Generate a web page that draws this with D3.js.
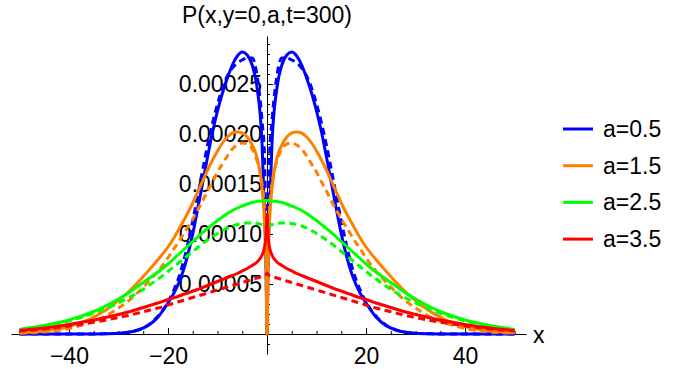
<!doctype html>
<html lang="en">
<head>
<meta charset="utf-8">
<title>P(x,y=0,a,t=300)</title>
<style>
  body { margin: 0; background: #fff; }
  svg { display: block; font-family: "Liberation Sans", Arial, sans-serif; }
  .axis path, .axis line { stroke: #000; stroke-width: 1; }
  .axis text { font-size: 23px; fill: #000; }
</style>
</head>
<body>
<script src="https://d3js.org/d3.v7.min.js"></script>
<script>
// values, y in units of 1e-5
var xs = [-50,-45,-40,-36,-33,-30,-28,-26,-24,-22,-20,-19,-18,-17,-16,-15,-14,-13,-12,-11,-10,-9,-8,-7,-6,-5,-4,-3,-2,-1,-0.5,-0.2,
          0,0.2,0.5,1,2,3,4,5,6,7,8,9,10,11,12,13,14,15,16,17,18,19,20,22,24,26,28,30,33,36,40,45,50];

var blueSolid = [0,0,0,0,0.02,0.07,0.17,0.4,0.85,1.7,3.1,3.9,4.9,6.2,7.9,10.0,12.5,15.1,17.7,20.2,22.3,24.1,25.6,26.9,27.8,28.2,27.9,26.9,24.6,19,12,7,
                 0,7,12,19,24.6,26.9,27.9,28.2,27.8,26.9,25.6,24.1,22.3,20.2,17.7,15.1,12.5,10.0,7.9,6.2,4.9,3.9,3.1,1.7,0.85,0.4,0.17,0.07,0.02,0,0,0,0];
var blueDashed = [0,0,0,0,0.02,0.07,0.18,0.42,0.9,1.8,3.2,4.2,5.4,7.0,9.0,11.3,13.8,16.4,18.9,21.1,23.0,24.6,25.8,26.6,27.1,27.4,27.6,27.6,25.8,21.3,17.8,9,
                  0,9,17.8,21.3,25.8,27.6,27.6,27.4,27.1,26.6,25.8,24.6,23.0,21.1,18.9,16.4,13.8,11.3,9.0,7.0,5.4,4.2,3.2,1.8,0.9,0.42,0.18,0.07,0.02,0,0,0,0];
var orangeSolid = [0.12,0.3,0.75,1.45,2.25,3.35,4.2,5.2,6.3,7.45,8.7,9.45,10.3,11.2,12.1,13.1,14.2,15.3,16.4,17.4,18.3,19.1,19.7,20.1,20.2,20.1,19.7,18.9,17.6,14.5,11.2,7,
                   0,7,11.2,14.5,17.6,18.9,19.7,20.1,20.2,20.1,19.7,19.1,18.3,17.4,16.4,15.3,14.2,13.1,12.1,11.2,10.3,9.45,8.7,7.45,6.3,5.2,4.2,3.35,2.25,1.45,0.75,0.3,0.12];
var orangeDashed = [0.08,0.2,0.55,1.1,1.7,2.6,3.3,4.2,5.2,6.3,7.6,8.4,9.1,9.9,10.7,11.5,12.4,13.3,14.3,15.2,16.2,17.0,17.8,18.5,18.9,19.1,19.0,18.5,17.3,15,12.5,8,
                    0,8,12.5,15,17.3,18.5,19.0,19.1,18.9,18.5,17.8,17.0,16.2,15.2,14.3,13.3,12.4,11.5,10.7,9.9,9.1,8.4,7.6,6.3,5.2,4.2,3.3,2.6,1.7,1.1,0.55,0.2,0.08];
var greenSolid = [0.45,0.85,1.4,2.05,2.7,3.5,4.1,4.8,5.5,6.2,7.0,7.45,7.9,8.35,8.8,9.25,9.7,10.15,10.55,10.95,11.35,11.7,12.05,12.35,12.6,12.8,13.0,13.15,13.25,13.3,13.35,13.35,
                  13.35,13.35,13.35,13.3,13.25,13.15,13.0,12.8,12.6,12.35,12.05,11.7,11.35,10.95,10.55,10.15,9.7,9.25,8.8,8.35,7.9,7.45,7.0,6.2,5.5,4.8,4.1,3.5,2.7,2.05,1.4,0.85,0.45];
var greenDashed = [0.42,0.8,1.3,1.9,2.45,3.1,3.6,4.15,4.8,5.5,6.25,6.65,7.05,7.45,7.85,8.25,8.65,9.05,9.4,9.75,10.05,10.35,10.6,10.8,10.95,11.05,11.1,11.1,11.05,10.95,10.9,10.85,
                   10.85,10.85,10.9,10.95,11.05,11.1,11.1,11.05,10.95,10.8,10.6,10.35,10.05,9.75,9.4,9.05,8.65,8.25,7.85,7.45,7.05,6.65,6.25,5.5,4.8,4.15,3.6,3.1,2.45,1.9,1.3,0.8,0.42];
var redSolid = [0.35,0.6,0.95,1.3,1.6,1.95,2.2,2.5,2.8,3.1,3.45,3.6,3.75,3.95,4.1,4.3,4.45,4.65,4.85,5.05,5.25,5.45,5.65,5.85,6.05,6.3,6.55,6.85,7.2,7.9,8.7,10.0,
                12.0,10.0,8.7,7.9,7.2,6.85,6.55,6.3,6.05,5.85,5.65,5.45,5.25,5.05,4.85,4.65,4.45,4.3,4.1,3.95,3.75,3.6,3.45,3.1,2.8,2.5,2.2,1.95,1.6,1.3,0.95,0.6,0.35];
var redDashed = [0.3,0.5,0.8,1.1,1.35,1.65,1.85,2.1,2.35,2.6,2.9,3.05,3.2,3.35,3.5,3.65,3.8,3.95,4.1,4.25,4.4,4.55,4.7,4.85,5.0,5.15,5.3,5.45,5.6,5.75,5.85,5.95,
                 6.1,5.95,5.85,5.75,5.6,5.45,5.3,5.15,5.0,4.85,4.7,4.55,4.4,4.25,4.1,3.95,3.8,3.65,3.5,3.35,3.2,3.05,2.9,2.6,2.35,2.1,1.85,1.65,1.35,1.1,0.8,0.5,0.3];

var legendLabels = ["a=0.5", "a=1.5", "a=2.5", "a=3.5"];
var colors = ["#0000ff", "#ff8000", "#00ff00", "#ff0000"];
var xTicks = [-40, -20, 20, 40];
var xTickLabels = ["\u221240", "\u221220", "20", "40"];
var yTicks = [5, 10, 15, 20, 25];
var yTickLabels = ["0.00005", "0.00010", "0.00015", "0.00020", "0.00025"];

var width = 682, height = 369;

var x = d3.scaleLinear().domain([-51.7, 52.3]).range([11, 526]);
var y = d3.scaleLinear().domain([-2, 29.8]).range([354, 36]);

var svg = d3.select("body").append("svg")
    .attr("width", width)
    .attr("height", height);

// x axis: minor ticks every 5, major at +-20, +-40
svg.append("g")
    .attr("class", "axis")
    .attr("transform", "translate(0," + y(0) + ")")
    .call(d3.axisBottom(x)
        .tickValues(d3.range(-50, 51, 5).filter(function(d) { return d !== 0 && xTicks.indexOf(d) < 0; }))
        .tickSizeInner(-3).tickSizeOuter(0).tickFormat(""));

svg.append("g")
    .attr("class", "axis")
    .attr("transform", "translate(0," + y(0) + ")")
    .call(d3.axisBottom(x)
        .tickValues(xTicks)
        .tickSizeInner(-6).tickSizeOuter(0).tickPadding(13.5)
        .tickFormat(function(d, i) { return xTickLabels[i]; }))
    .call(function(g) { g.select(".domain").remove(); });

// y axis sitting on x = 0
svg.append("g")
    .attr("class", "axis")
    .attr("transform", "translate(" + x(0) + ",0)")
    .call(d3.axisLeft(y)
        .tickValues(d3.range(-1, 30).filter(function(d) { return d !== 0 && yTicks.indexOf(d) < 0; }))
        .tickSizeInner(-3).tickSizeOuter(0).tickFormat(""));

svg.append("g")
    .attr("class", "axis")
    .attr("transform", "translate(" + x(0) + ",0)")
    .call(d3.axisLeft(y)
        .tickValues(yTicks)
        .tickSizeInner(-6).tickSizeOuter(0).tickPadding(5)
        .tickFormat(function(d, i) { return yTickLabels[i]; }))
    .call(function(g) { g.select(".domain").remove(); });

svg.append("text")
    .attr("x", 533).attr("y", 343)
    .style("font-size", "23px")
    .text("x");

svg.append("text")
    .attr("x", x(0)).attr("y", 23)
    .attr("text-anchor", "middle")
    .style("font-size", "23px")
    .text("P(x,y=0,a,t=300)");

// curves
var series = [
    {v: blueSolid, c: 0, dash: null}, {v: blueDashed, c: 0, dash: "7,4.5"},
    {v: orangeSolid, c: 1, dash: null}, {v: orangeDashed, c: 1, dash: "7,4.5"},
    {v: greenSolid, c: 2, dash: null}, {v: greenDashed, c: 2, dash: "7,4.5"},
    {v: redSolid, c: 3, dash: null}, {v: redDashed, c: 3, dash: "7,4.5"}
];

var line = d3.line()
    .x(function(d) { return x(d[0]); })
    .y(function(d) { return y(d[1]); })
    .curve(d3.curveMonotoneX);

svg.selectAll(".curve")
    .data(series)
    .enter().append("path")
    .attr("class", "curve")
    .attr("fill", "none")
    .attr("stroke", function(d) { return colors[d.c]; })
    .attr("stroke-width", 3)
    .attr("stroke-dasharray", function(d) { return d.dash; })
    .attr("d", function(d) { return line(xs.map(function(xv, i) { return [xv, d.v[i]]; })); });

// legend
var legend = svg.selectAll(".legend")
    .data(legendLabels)
    .enter().append("g")
    .attr("class", "legend")
    .attr("transform", function(d, i) { return "translate(563," + (129 + i * 36.7) + ")"; });

legend.append("line")
    .attr("x1", 0).attr("x2", 30)
    .attr("stroke", function(d, i) { return colors[i]; })
    .attr("stroke-width", 3);

legend.append("text")
    .attr("x", 40).attr("y", 8)
    .style("font-size", "23px")
    .text(function(d) { return d; });
</script>
</body>
</html>
